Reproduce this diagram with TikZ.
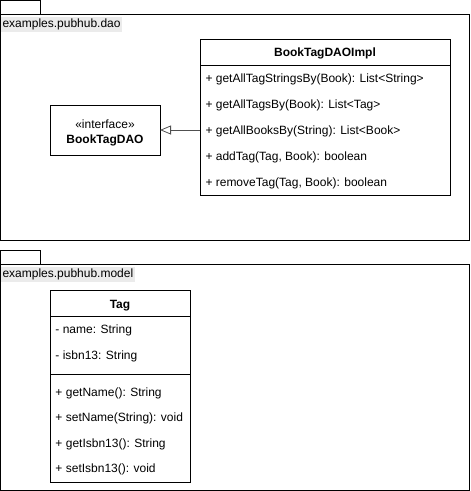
\documentclass[tikz,border=0pt]{standalone}
\usepackage{fontspec}
\setmainfont{Liberation Sans}
\usetikzlibrary{arrows.meta}
\definecolor{lblbg}{RGB}{235,235,235}
\definecolor{edgecol}{RGB}{80,80,80}
\begin{document}
\begin{tikzpicture}[x=1pt,y=-1pt,
  font=\fontsize{12}{14}\selectfont,
  line width=1pt,
  pkgbox/.style={draw, rectangle, inner sep=0pt, outer sep=0pt},
  pkglabel/.style={fill=lblbg, inner xsep=1.5pt, inner ysep=1.5pt, anchor=west},
  classbox/.style={draw, rectangle, inner sep=0pt, outer sep=0pt, fill=white},
  member/.style={anchor=base west, inner sep=0pt},
  ctitle/.style={anchor=base, inner sep=0pt, font=\fontsize{12}{14}\selectfont\bfseries},
  realize/.style={draw=edgecol, line width=0.8pt, -{Triangle[open, length=11pt, width=9pt, line width=0.8pt]}}
]
\useasboundingbox (0,0) rectangle (471,491);
% package examples.pubhub.dao
\node[pkgbox, minimum width=40pt, minimum height=14pt] (daotab) at (20.5,7.5) {};
\node[pkgbox, minimum width=469pt, minimum height=226pt] (pkgdao) at (235,127) {};
\node[pkglabel] (daolbl) at (0.5,24.5) {examples.pubhub.dao};
% package examples.pubhub.model
\node[pkgbox, minimum width=40pt, minimum height=14pt] (modeltab) at (20.5,257) {};
\node[pkgbox, minimum width=469pt, minimum height=226pt] (pkgmodel) at (235,377) {};
\node[pkglabel] (modellbl) at (0.5,274.5) {examples.pubhub.model};
% interface BookTagDAO
\node[classbox, minimum width=110pt, minimum height=50pt] (dao) at (105,130) {};
\node[anchor=base, inner sep=0pt] (daost) at (105,128) {«interface»};
\node[ctitle] (daoname) at (105,143) {BookTagDAO};
% class BookTagDAOImpl
\node[classbox, minimum width=250pt, minimum height=156pt] (impl) at (325,117) {};
\coordinate (implsep) at (200,65);
\draw (implsep) -- (450,65);
\node[ctitle] (impltitle) at (325,56.5) {BookTagDAOImpl};
\node[member] (m1) at (205,82.5) {+ getAllTagStringsBy(Book): List<String>};
\node[member] (m2) at (205,108.5) {+ getAllTagsBy(Book): List<Tag>};
\node[member] (m3) at (205,134.5) {+ getAllBooksBy(String): List<Book>};
\node[member] (m4) at (205,160.5) {+ addTag(Tag, Book): boolean};
\node[member] (m5) at (205,186.5) {+ removeTag(Tag, Book): boolean};
% realization
\draw[realize] (impl.west |- dao.east) -- (dao.east);
% class Tag
\node[classbox, minimum width=140pt, minimum height=192pt] (tag) at (120,386) {};
\draw (50,316) -- (190,316);
\draw (50,374) -- (190,374);
\node[ctitle] (tagtitle) at (120,308) {Tag};
\node[member] (a1) at (55,333.5) {- name: String};
\node[member] (a2) at (55,359.5) {- isbn13: String};
\node[member] (t1) at (55,396.5) {+ getName(): String};
\node[member] (t2) at (55,421.5) {+ setName(String): void};
\node[member] (t3) at (55,447) {+ getIsbn13(): String};
\node[member] (t4) at (55,472.5) {+ setIsbn13(): void};
\end{tikzpicture}
\end{document}
